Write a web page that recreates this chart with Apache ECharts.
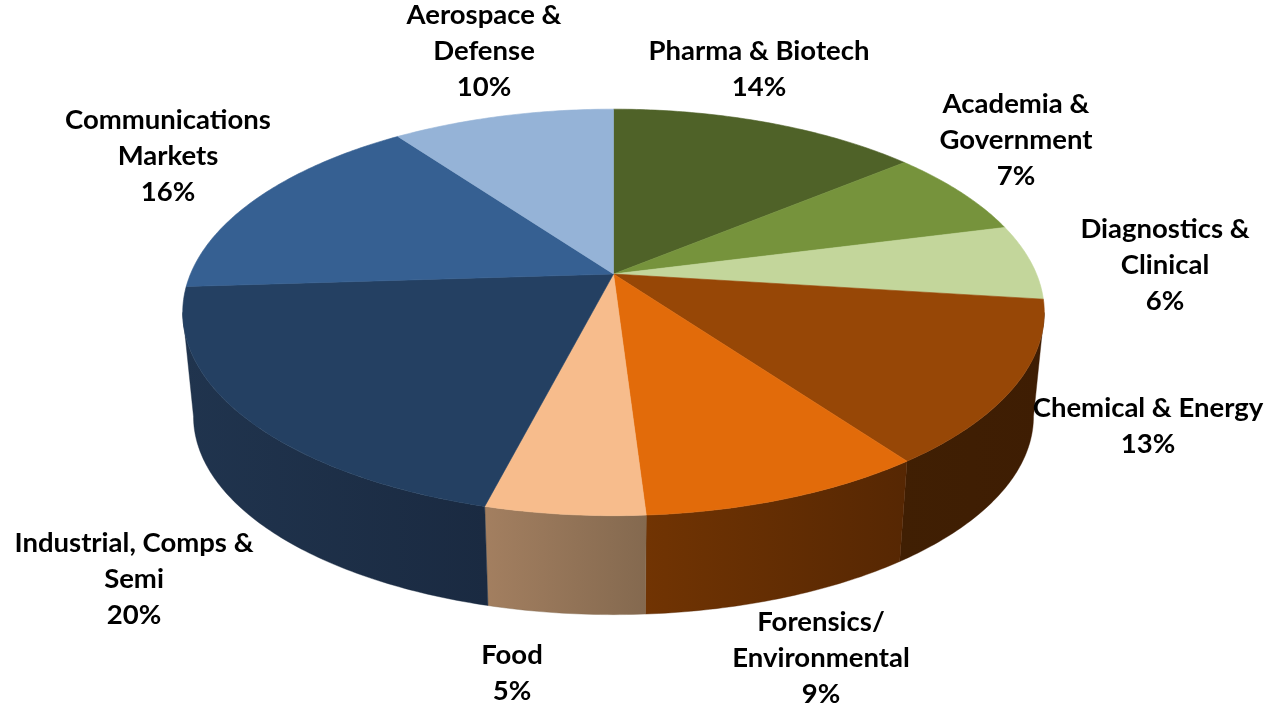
<!DOCTYPE html>
<html>
<head>
<meta charset="utf-8">
<style>html,body{margin:0;padding:0;background:#fff}#chart{width:1268px;height:705px}</style>
<script src="https://cdn.jsdelivr.net/npm/echarts@6/dist/echarts.min.js"></script>
</head>
<body>
<div id="chart"></div>
<script>
// Data
var categories = ['Pharma & Biotech','Academia &\nGovernment','Diagnostics &\nClinical','Chemical & Energy','Forensics/\nEnvironmental','Food','Industrial, Comps &\nSemi','Communications\nMarkets','Aerospace &\nDefense'];
var percentValues = [14,7,6,13,9,5,20,16,10];
var topColors = ['#4f6228','#76933c','#c3d69b','#974706','#e26b0a','#f7bc8c','#244062','#366092','#95b3d7'];
var wallLeft  = ['#3a481d','#566b2c','#8e9c71','#401f03','#713403','#a37f60','#20344e','#284769','#6c8299'];
var wallRight = ['#3a481d','#566b2c','#8e9c71','#3e1d03','#562703','#84694f','#1a2a41','#284769','#6c8299'];

// Layout of the tilted pie and labels (not data)
var apex = {x:613.5, y:274}, radX = 423, radY = 196, persp = 0.189;
var floorY = 379, floorScale = 0.975;
var labelAt = [[759,69],[1016,140],[1165,265],[1148,426],[821,658],[512,673],[134,579],[168,156],[484,51]];
var labelFont = 'bold 27.5px Lato, "Open Sans", sans-serif';
var labelLine = 36;

var total = percentValues.reduce(function(a,b){return a+b;},0);
function turn(cum){ return echarts.number.linearMap(cum,[0,total],[0,Math.PI*2]); }
function cumBefore(i){ var s=0; for(var k=0;k<i;k++) s+=percentValues[k]; return s; }
function rim(t, wall){
  var u=Math.sin(t), v=-Math.cos(t), d=1-persp*v;
  var px=radX*u/d, py=radY*v/d;
  return wall ? [apex.x+px*floorScale, floorY+py*floorScale] : [apex.x+px, apex.y+py];
}
function arc(t0,t1,wall){
  var n=Math.max(2,Math.ceil(Math.abs(t1-t0)/(Math.PI/240))), pts=[];
  for(var i=0;i<=n;i++) pts.push(rim(t0+(t1-t0)*i/n,wall));
  return pts;
}
var frontFrom=Math.PI/2+Math.asin(persp), frontTo=Math.PI*1.5-Math.asin(persp);

function renderTop(params){
  var i=params.dataIndex;
  var a=turn(cumBefore(i)), b=turn(cumBefore(i)+percentValues[i]);
  var pts=[[apex.x,apex.y]].concat(arc(a,b,false));
  return {type:'polygon',shape:{points:pts},style:{fill:topColors[i],stroke:topColors[i],lineWidth:0.6}};
}
function renderWall(params){
  var i=params.dataIndex;
  var a=Math.max(turn(cumBefore(i)),frontFrom), b=Math.min(turn(cumBefore(i)+percentValues[i]),frontTo);
  if(b<=a) return null;
  var pts=arc(a,b,false).concat(arc(b,a,true));
  return {type:'polygon',shape:{points:pts},style:{
    fill:new echarts.graphic.LinearGradient(0,0,1,0,[{offset:0,color:wallLeft[i]},{offset:1,color:wallRight[i]}]),
    stroke:wallRight[i],lineWidth:0.4}};
}
function renderLabel(params){
  var i=params.dataIndex;
  return {type:'text',x:labelAt[i][0],y:labelAt[i][1],style:{
    text:categories[i]+'\n'+percentValues[i]+'%',font:labelFont,lineHeight:labelLine,
    fill:'#000',align:'center',verticalAlign:'middle'}};
}
var chart=echarts.init(document.getElementById('chart'),null,{renderer:'canvas'});
var rows=percentValues.map(function(v,i){return [v,categories[i]];});
chart.setOption({
  animation:false,
  backgroundColor:'#fff',
  series:[
    {type:'custom',coordinateSystem:'none',data:rows,renderItem:renderWall,z:1,silent:true},
    {type:'custom',coordinateSystem:'none',data:rows,renderItem:renderTop,z:2,silent:true},
    {type:'custom',coordinateSystem:'none',data:rows,renderItem:renderLabel,z:3,silent:true}
  ]
});
</script>
</body>
</html>
